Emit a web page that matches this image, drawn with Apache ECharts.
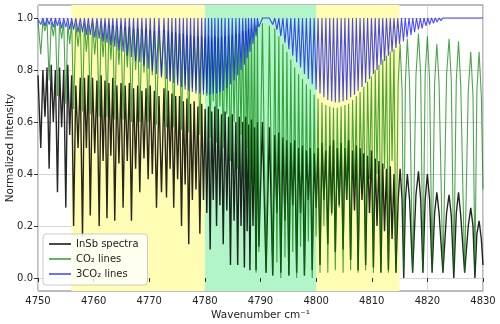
<!DOCTYPE html>
<html>
<head>
<meta charset="utf-8">
<script src="https://cdn.jsdelivr.net/npm/echarts@6/dist/echarts.min.js"></script>
<style>
  html, body { margin: 0; padding: 0; background: #fff; }
  #container { width: 500px; height: 324px; }
</style>
</head>
<body>
<div id="container"></div>
<script>
// line centres (cm-1), P branch, gap, R branch
let lineCentres = [
    4750.5, 4751.25, 4752.0, 4752.75, 4753.5, 4754.25, 4755.0, 4755.7, 4756.4, 4757.2,
    4758.0, 4758.7, 4759.4, 4760.2, 4761.0, 4761.7, 4762.4, 4763.1, 4763.8, 4764.55,
    4765.3, 4766.05, 4766.8, 4767.55, 4768.3, 4769.05, 4769.8, 4770.55, 4771.3, 4772.2,
    4773.1, 4773.75, 4774.4, 4775.1, 4775.8, 4776.45, 4777.1, 4777.75, 4778.4, 4779.1,
    4779.75, 4780.35, 4780.95, 4781.5, 4782.1, 4782.7, 4783.3, 4783.95, 4784.6, 4785.25,
    4785.9, 4786.5, 4787.1, 4787.6, 4788.1, 4788.65, 4789.2, 4789.7,
    4791.0,
    4792.2, 4792.95, 4793.65, 4794.4, 4795.1, 4795.8, 4796.5, 4797.2, 4797.9, 4798.6,
    4799.3, 4800.0, 4800.7, 4801.4, 4802.1, 4802.8, 4803.45, 4804.15, 4804.85, 4805.5,
    4806.2, 4806.9, 4807.55, 4808.25, 4808.9, 4809.6, 4810.3, 4810.95, 4811.65, 4812.3,
    4813.0, 4813.65, 4814.35, 4815.0, 4815.7, 4816.35, 4817.05, 4817.7, 4818.4, 4819.05,
    4819.75, 4820.4, 4821.1, 4821.75, 4822.45, 4823.1, 4823.8, 4824.45
];

// 3CO2 (blue) line minima
let blueDips = [
    0.975, 0.97, 0.975, 0.965, 0.97, 0.96, 0.965, 0.955, 0.955, 0.945,
    0.945, 0.935, 0.935, 0.925, 0.92, 0.91, 0.905, 0.895, 0.89, 0.875,
    0.87, 0.855, 0.85, 0.835, 0.83, 0.815, 0.805, 0.795, 0.785, 0.775,
    0.765, 0.755, 0.75, 0.74, 0.735, 0.725, 0.72, 0.715, 0.71, 0.71,
    0.705, 0.71, 0.705, 0.71, 0.71, 0.715, 0.72, 0.73, 0.745, 0.76,
    0.78, 0.8, 0.82, 0.845, 0.87, 0.9, 0.93, 0.965,
    1.0,
    0.975, 0.955, 0.93, 0.905, 0.88, 0.855, 0.83, 0.81, 0.785, 0.765,
    0.745, 0.725, 0.71, 0.695, 0.685, 0.68, 0.675, 0.675, 0.68, 0.685,
    0.695, 0.705, 0.72, 0.735, 0.75, 0.765, 0.785, 0.8, 0.82, 0.835,
    0.855, 0.87, 0.885, 0.9, 0.91, 0.925, 0.935, 0.945, 0.955, 0.96,
    0.97, 0.975, 0.98, 0.985, 0.99, 0.993, 0.996, 0.998
];
let blueCeiling = 1.0;
let blueStart = 0.995;
let blueTailX = [4825.0, 4830.0];
let blueTailY = [1.0, 1.0];

// CO2 (green) line minima and maxima between lines
let greenDips = [
    0.86, 0.95, 0.76, 0.93, 0.7, 0.92, 0.67, 0.9, 0.65, 0.89,
    0.64, 0.87, 0.63, 0.86, 0.62, 0.85, 0.62, 0.84, 0.61, 0.82,
    0.61, 0.81, 0.6, 0.8, 0.6, 0.79, 0.6, 0.78, 0.59, 0.77,
    0.58, 0.76, 0.58, 0.75, 0.57, 0.74, 0.56, 0.73, 0.72, 0.55,
    0.72, 0.7, 0.54, 0.68, 0.52, 0.66, 0.5, 0.63, 0.45, 0.6,
    0.42, 0.55, 0.38, 0.5, 0.2, 0.35, 0.02, 0.1,
    0.02,
    0.01, 0.06, 0.0, 0.08, 0.01, 0.1, 0.0, 0.12, 0.01, 0.14,
    0.0, 0.16, 0.02, 0.2, 0.02, 0.24, 0.03, 0.27, 0.02, 0.3,
    0.03, 0.33, 0.02, 0.36, 0.03, 0.38, 0.02, 0.4, 0.03, 0.42,
    0.02, 0.45, 0.02
];
let greenTops = [
    0.99, 0.99, 0.985, 0.99, 0.985, 0.985, 0.98, 0.985, 0.98, 0.98,
    0.98, 0.975, 0.98, 0.975, 0.97, 0.975, 0.97, 0.97, 0.965, 0.97,
    0.965, 0.965, 0.96, 0.96, 0.955, 0.96, 0.955, 0.95, 0.95, 0.955,
    0.95, 0.945, 0.945, 0.94, 0.94, 0.935, 0.935, 0.93, 0.93, 0.93,
    0.925, 0.93, 0.925, 0.93, 0.925, 0.93, 0.93, 0.935, 0.935, 0.94,
    0.94, 0.95, 0.95, 0.96, 0.96, 0.97, 0.975,
    0.98, 0.97,
    0.96, 0.93, 0.9, 0.87, 0.84, 0.81, 0.785, 0.765, 0.745, 0.725,
    0.705, 0.69, 0.675, 0.665, 0.66, 0.655, 0.655, 0.66, 0.665, 0.67,
    0.685, 0.7, 0.715, 0.735, 0.755, 0.775, 0.8, 0.82, 0.84, 0.855,
    0.87, 0.88
];
let greenStart = 0.99;
let greenTailX = [
    4814.75, 4815.1, 4815.45, 4815.75, 4816.05, 4816.4, 4816.8, 4817.35, 4817.95, 4818.4,
    4818.8, 4819.2, 4819.6, 4820.0, 4820.4, 4820.85, 4821.3, 4821.7, 4822.1, 4822.8,
    4823.45, 4823.9, 4824.3, 4824.75, 4825.2, 4825.6, 4826.0, 4826.7, 4827.35, 4827.8,
    4828.2, 4828.55, 4828.9, 4829.3, 4829.7, 4830.0
];
let greenTailY = [
    0.75, 0.9, 0.72, 0.03, 0.75, 0.92, 0.75, 0.02, 0.78, 0.94,
    0.78, 0.02, 0.78, 0.93, 0.76, 0.03, 0.75, 0.9, 0.75, 0.02,
    0.78, 0.92, 0.76, 0.03, 0.76, 0.91, 0.74, 0.02, 0.72, 0.87,
    0.7, 0.03, 0.72, 0.87, 0.7, 0.34
];

// InSb (black) spectrum minima and maxima between lines
let blackDips = [
    0.5, 0.62, 0.42, 0.6, 0.33, 0.58, 0.27, 0.55, 0.2, 0.5,
    0.16, 0.5, 0.24, 0.48, 0.2, 0.45, 0.23, 0.47, 0.22, 0.44,
    0.27, 0.45, 0.22, 0.42, 0.33, 0.46, 0.38, 0.4, 0.27, 0.33,
    0.31, 0.42, 0.27, 0.38, 0.2, 0.36, 0.13, 0.3, 0.34, 0.17,
    0.3, 0.25, 0.11, 0.3, 0.2, 0.28, 0.13, 0.26, 0.05, 0.22,
    0.05, 0.2, 0.04, 0.18, 0.03, 0.2, 0.03, 0.12,
    0.02,
    0.01, 0.25, 0.02, 0.22, 0.01, 0.28, 0.02, 0.25, 0.01, 0.3,
    0.03, 0.27, 0.05, 0.3, 0.13, 0.25, 0.1, 0.28, 0.11, 0.3,
    0.07, 0.26, 0.03, 0.3, 0.05, 0.25, 0.04, 0.2, 0.02, 0.18,
    0.03, 0.15, 0.02
];
let blackTops = [
    0.8, 0.81, 0.82, 0.8, 0.81, 0.8, 0.82, 0.78, 0.74, 0.77,
    0.77, 0.78, 0.77, 0.76, 0.78, 0.76, 0.75, 0.77, 0.74, 0.75,
    0.74, 0.75, 0.73, 0.74, 0.72, 0.73, 0.74, 0.72, 0.7, 0.73,
    0.72, 0.71, 0.7, 0.7, 0.68, 0.69, 0.67, 0.68, 0.66, 0.67,
    0.65, 0.66, 0.64, 0.66, 0.65, 0.63, 0.64, 0.62, 0.63, 0.6,
    0.62, 0.6, 0.62, 0.59, 0.61, 0.58, 0.6,
    0.6, 0.58,
    0.55, 0.56, 0.54, 0.53, 0.52, 0.53, 0.5, 0.51, 0.49, 0.5,
    0.48, 0.5, 0.52, 0.49, 0.51, 0.53, 0.5, 0.52, 0.5, 0.53,
    0.49, 0.51, 0.5, 0.48, 0.47, 0.49, 0.46, 0.45, 0.44, 0.42,
    0.43, 0.4
];
let blackStart = 0.78;
let blackTailX = greenTailX;
let blackTailY = [
    0.3, 0.42, 0.3, 0.0, 0.3, 0.4, 0.3, 0.02, 0.32, 0.41,
    0.3, 0.02, 0.3, 0.4, 0.3, 0.02, 0.25, 0.33, 0.25, 0.02,
    0.25, 0.32, 0.24, 0.0, 0.25, 0.33, 0.24, 0.02, 0.2, 0.27,
    0.2, 0.0, 0.17, 0.22, 0.15, 0.05
];

// shaded spectral windows
let yellowBands = [[4756, 4780], [4800, 4815]];
let greenBands = [[4780, 4800]];

let xTicks = [4750, 4760, 4770, 4780, 4790, 4800, 4810, 4820, 4830];
let yTicks = [0.0, 0.2, 0.4, 0.6, 0.8, 1.0];

// dip at each line centre, top halfway to the next line
function buildTrace(dips, tops, start, tailX, tailY) {
    let pts = [[xTicks[0], start]];
    let n = Math.min(dips.length, lineCentres.length);
    for (let i = 0; i < n; i++) {
        pts.push([lineCentres[i], dips[i]]);
        if (i < n - 1) {
            let top = Array.isArray(tops) ? tops[i] : tops;
            pts.push([(lineCentres[i] + lineCentres[i + 1]) / 2, top]);
        }
    }
    tailX.forEach((x, i) => pts.push([x, tailY[i]]));
    return pts;
}

let dom = document.getElementById("container");
let myChart = echarts.init(dom, null, { renderer: 'canvas' });
let font = 'DejaVu Sans';

let bandAreas = [];
yellowBands.forEach(b => bandAreas.push([{ xAxis: b[0], itemStyle: { color: '#fffcb4' } }, { xAxis: b[1] }]));
greenBands.forEach(b => bandAreas.push([{ xAxis: b[0], itemStyle: { color: '#b2f5c9' } }, { xAxis: b[1] }]));

let option = {
    animation: false,
    grid: {
        left: 38,
        right: 17,
        top: 5,
        bottom: 33,
        containLabel: false,
        outerBoundsMode: 'none',
        show: true,
        borderColor: '#7a7a7a',
        borderWidth: 1,
        backgroundColor: 'transparent'
    },
    legend: {
        orient: 'vertical',
        left: 43,
        top: 234,
        icon: 'rect',
        itemWidth: 22,
        itemHeight: 2,
        itemGap: 5,
        padding: [5, 9, 6, 6],
        backgroundColor: 'rgba(255,255,255,0.8)',
        borderColor: '#cccccc',
        borderWidth: 1,
        borderRadius: 3,
        textStyle: { fontFamily: font, fontSize: 10, color: '#222' },
        data: [
            { name: 'InSb spectra', itemStyle: { color: '#4a4a4a' } },
            { name: 'CO₂ lines', itemStyle: { color: '#66b266' } },
            { name: '3CO₂ lines', itemStyle: { color: '#7070ff' } }
        ]
    },
    xAxis: {
        type: 'value',
        min: 4750,
        max: 4830,
        interval: 10,
        z: 1,
        name: 'Wavenumber cm⁻¹',
        nameLocation: 'middle',
        nameGap: 19,
        nameMoveOverlap: false,
        nameTextStyle: { fontFamily: font, fontSize: 10.5, color: '#222' },
        axisLine: { show: false },
        axisTick: { show: true, length: 4, lineStyle: { color: '#333' } },
        axisLabel: {
            margin: 5, fontFamily: font, fontSize: 10, color: '#222',
            showMinLabel: true, showMaxLabel: true,
            formatter: v => String(v)
        },
        splitLine: { show: true, lineStyle: { color: '#d6d6d6', width: 1 } }
    },
    yAxis: {
        type: 'value',
        min: -0.05,
        max: 1.05,
        splitNumber: 5,
        z: 1,
        name: 'Normalized Intensity',
        nameLocation: 'middle',
        nameGap: 22,
        nameMoveOverlap: false,
        nameTextStyle: { fontFamily: font, fontSize: 10.5, color: '#222' },
        axisLine: { show: false },
        axisTick: { show: true, length: 4, lineStyle: { color: '#333' }, customValues: yTicks },
        axisLabel: {
            margin: 5, fontFamily: font, fontSize: 10, color: '#222',
            customValues: yTicks,
            formatter: v => v.toFixed(1)
        },
        splitLine: { show: true, lineStyle: { color: '#d6d6d6', width: 1 } }
    },
    series: [
        {
            name: 'bands',
            type: 'line',
            data: [],
            z: 0,
            silent: true,
            markArea: { silent: true, data: bandAreas }
        },
        {
            name: 'InSb spectra',
            type: 'line',
            symbol: 'none',
            z: 2,
            lineStyle: { color: '#000000', width: 1.4, opacity: 0.85 },
            data: buildTrace(blackDips, blackTops, blackStart, blackTailX, blackTailY)
        },
        {
            name: 'CO₂ lines',
            type: 'line',
            symbol: 'none',
            z: 3,
            lineStyle: { color: '#008000', width: 1.1, opacity: 0.7 },
            data: buildTrace(greenDips, greenTops, greenStart, greenTailX, greenTailY)
        },
        {
            name: '3CO₂ lines',
            type: 'line',
            symbol: 'none',
            z: 4,
            lineStyle: { color: '#0000ff', width: 1.1, opacity: 0.7 },
            data: buildTrace(blueDips, blueCeiling, blueStart, blueTailX, blueTailY)
        }
    ]
};
if (option && typeof option === "object") {
    myChart.setOption(option, true);
}
</script>
</body>
</html>
